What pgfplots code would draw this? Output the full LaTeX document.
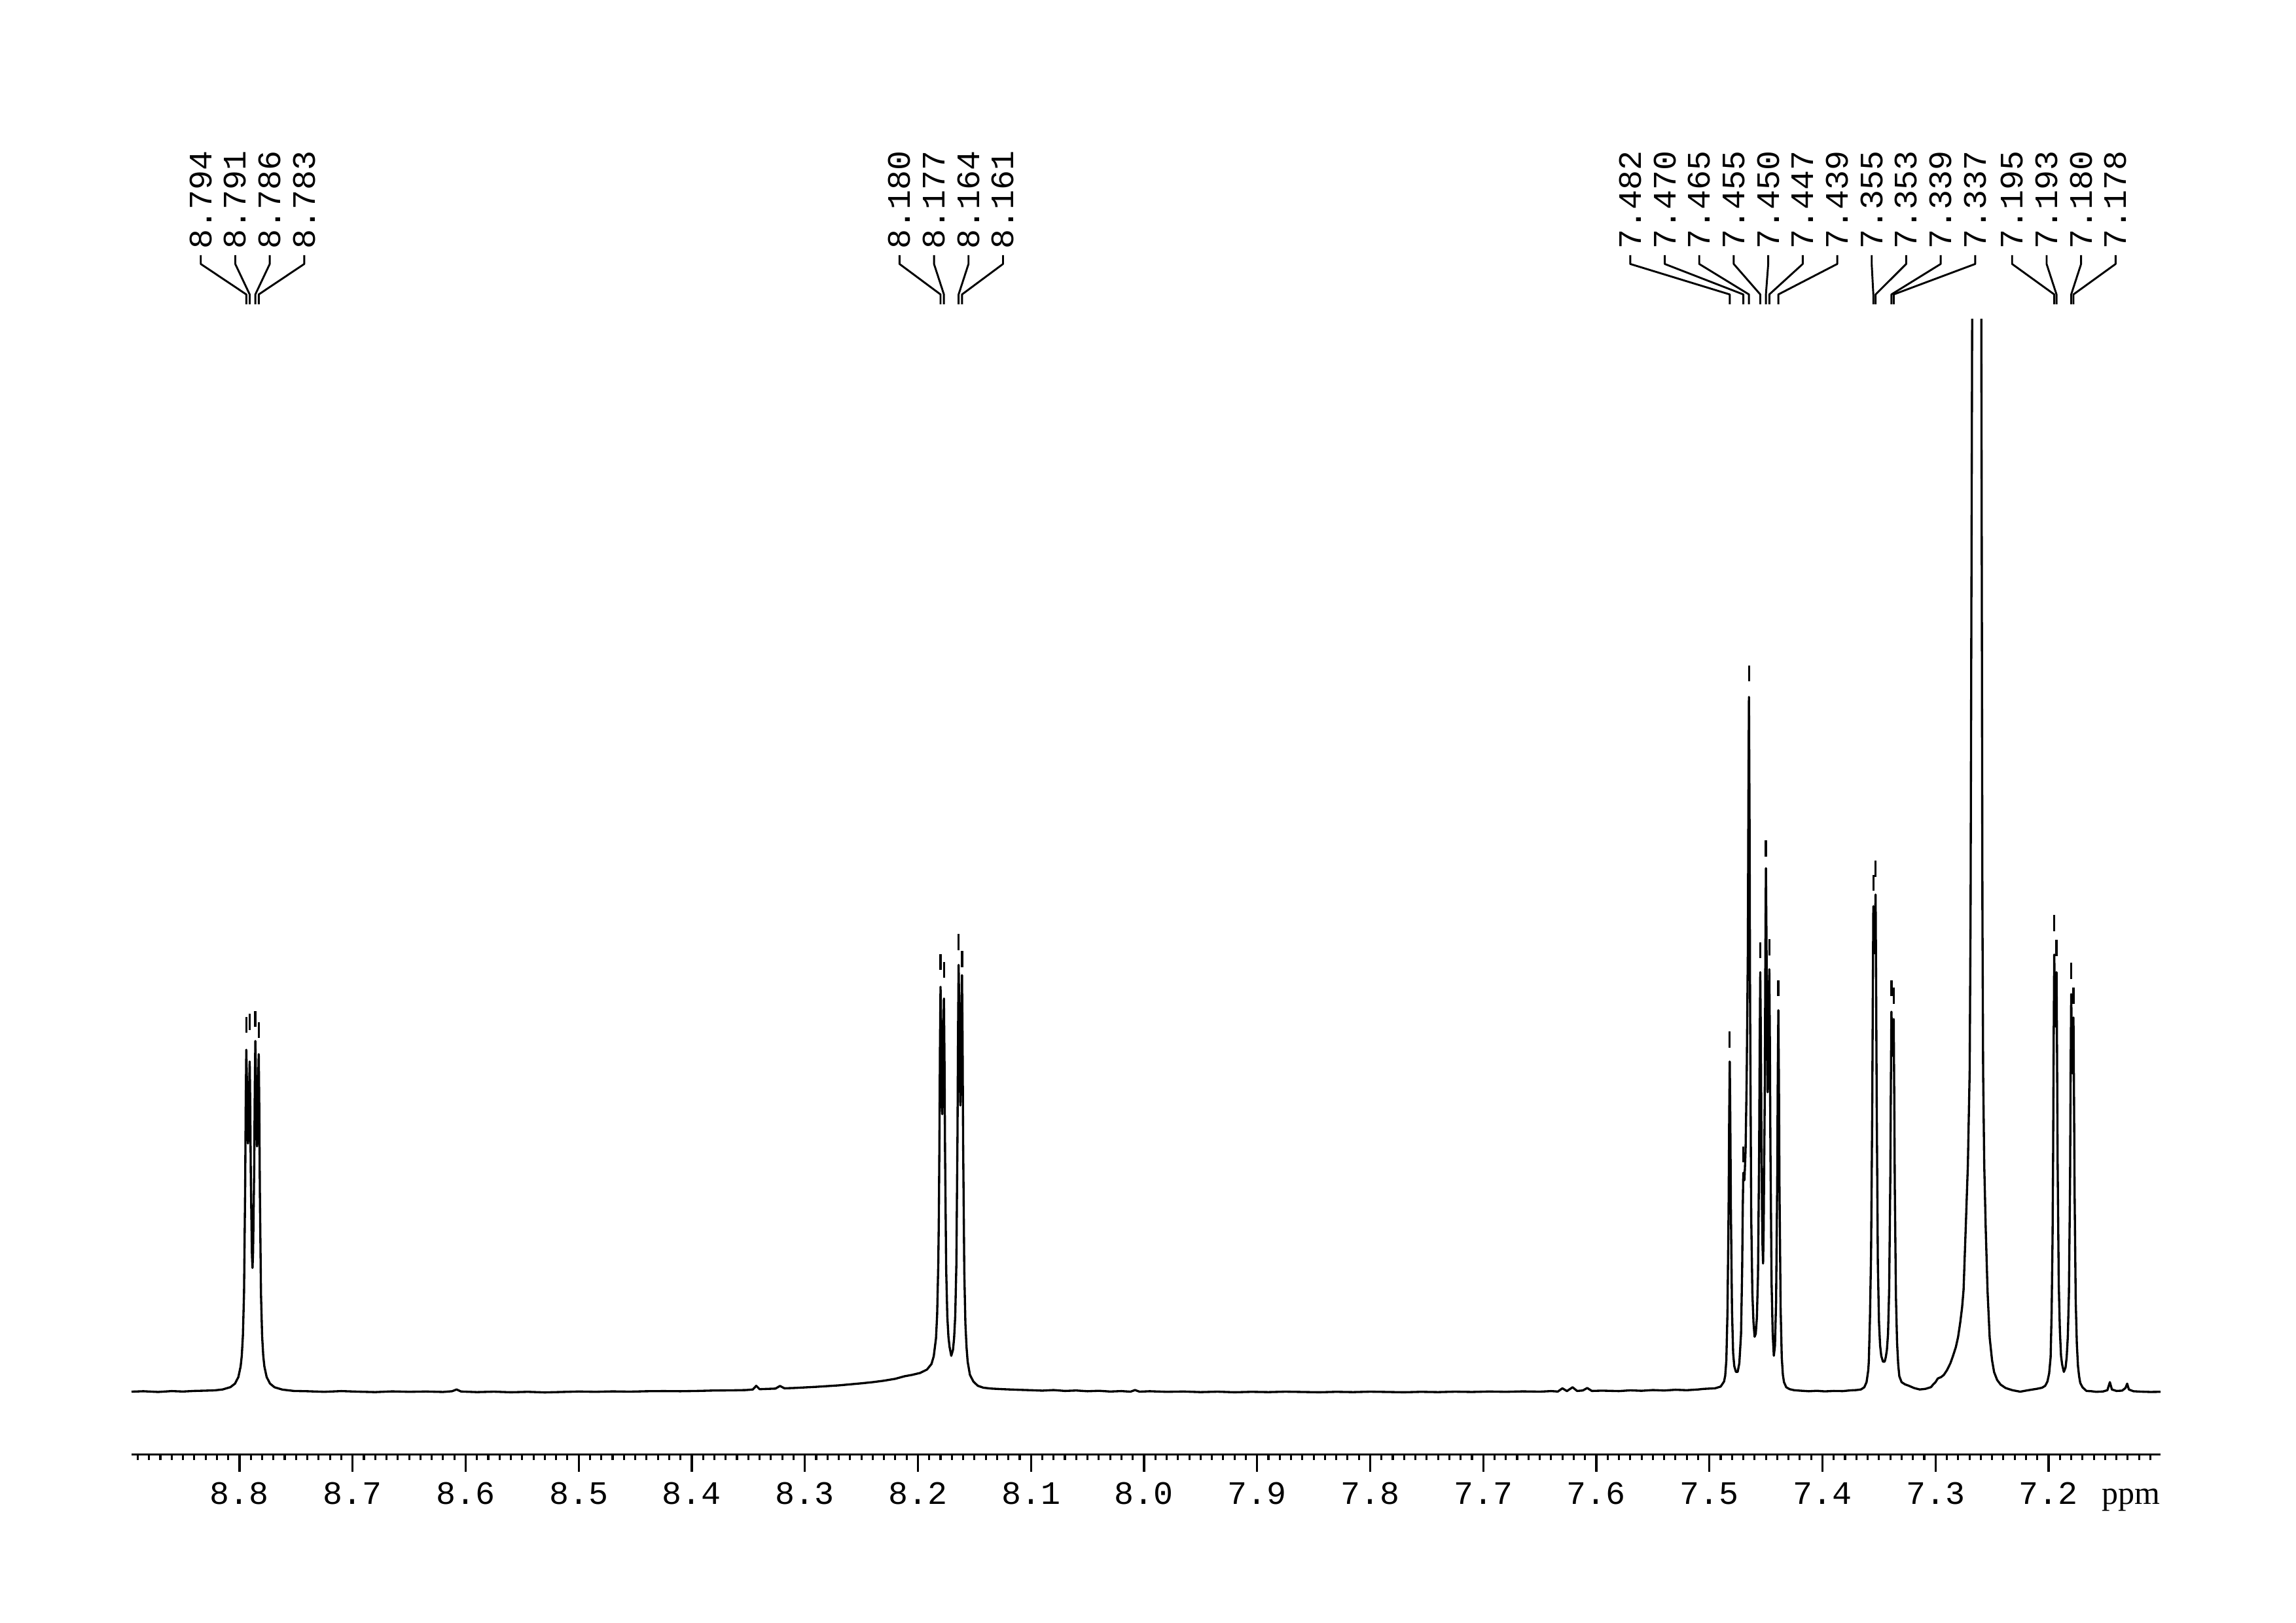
\documentclass[border=0pt]{standalone}
\usepackage{pgfplots}
\pgfplotsset{compat=1.18}
\usepackage{fontspec}
\setmainfont{Liberation Serif}
\newfontfamily\monof{Liberation Mono}
\newcommand{\lbl}{\monof\fontsize{12}{14}\selectfont}
\newcommand{\pk}[3]{%
  \draw[line width=0.7pt,line join=round] (axis cs:#1,743.2) -- (axis cs:#1,749.9) -- (axis cs:#2,770.7) -- (axis cs:#2,776.7);
  \node[rotate=90,anchor=west,inner sep=0pt,font=\lbl] at (axis cs:#2,780.5) {#3};}
\begin{document}
\begin{tikzpicture}
\useasboundingbox (0,0) rectangle (841.92pt,594.96pt);
\begin{axis}[
  at={(48.24pt,61.51pt)}, anchor=south west,
  scale only axis, width=744pt, height=416.4pt,
  xmin=7.101, xmax=8.8955, ymin=-42.5, ymax=733,
  x dir=reverse,
  axis x line*=bottom, hide y axis,
  axis line style={line width=0.85pt},
  xtick={7.2,7.3,7.4,7.5,7.6,7.7,7.8,7.9,8.0,8.1,8.2,8.3,8.4,8.5,8.6,8.7,8.8},
  minor xtick={7.11,7.12,...,8.895},
  tick align=outside, major tick length=6.2pt, minor tick length=2pt,
  every tick/.style={black, line width=0.75pt},
  xticklabel={\pgfmathprintnumber[fixed,fixed zerofill,precision=1,assume math mode=true]{\tick}},
  xticklabel style={font=\lbl, anchor=base, yshift=-12pt},
  clip mode=individual,
]
\addplot[black, line width=0.8pt, line join=round, mark=none] coordinates {
(8.8955,0.5) (8.885,0.8) (8.872,0.3) (8.860,0.9) (8.850,0.6) (8.840,1.0) (8.830,1.2) (8.822,1.4) (8.815,2.0) (8.808,3.6)
(8.804,6.0) (8.801,10.5) (8.799,17.8) (8.798,25) (8.797,38.7) (8.796,68) (8.795,140) (8.7945,197) (8.794,234) (8.7935,214)
(8.793,176) (8.7925,170) (8.792,176) (8.7915,206) (8.791,226) (8.7905,195) (8.790,147) (8.789,94) (8.7885,85) (8.788,96)
(8.787,154) (8.7865,207) (8.786,240) (8.7855,218) (8.785,180) (8.7845,168) (8.784,177) (8.7835,212) (8.783,231) (8.7825,194)
(8.782,138) (8.781,67) (8.780,38.4) (8.779,25) (8.778,17.7) (8.776,10.5) (8.773,6.0) (8.769,3.5) (8.762,1.9) (8.752,1.0)
(8.740,0.8) (8.725,0.4) (8.710,0.9) (8.695,0.5) (8.680,0.2) (8.665,0.7) (8.650,0.4) (8.635,0.6) (8.620,0.3) (8.612,0.8)
(8.608,2.0) (8.604,0.6) (8.590,0.2) (8.575,0.5) (8.560,0.1) (8.545,0.4) (8.530,0.0) (8.515,0.3) (8.500,0.6) (8.485,0.4)
(8.470,0.7) (8.455,0.5) (8.440,0.8) (8.425,0.9) (8.410,0.8) (8.395,1.0) (8.380,1.3) (8.365,1.4) (8.352,1.6) (8.346,2.0)
(8.343,4.5) (8.340,2.2) (8.333,2.4) (8.326,2.6) (8.322,4.4) (8.318,2.8) (8.310,3.0) (8.300,3.4) (8.290,3.8) (8.280,4.3)
(8.270,4.8) (8.260,5.5) (8.250,6.2) (8.240,7.0) (8.230,8.0) (8.220,9.3) (8.212,11) (8.205,12) (8.198,13.3) (8.192,15.6)
(8.188,19.4) (8.186,24.7) (8.184,37) (8.183,53) (8.182,87) (8.1815,119) (8.181,169) (8.1805,235) (8.180,277) (8.1795,253)
(8.179,209) (8.1785,190) (8.178,206) (8.1775,247) (8.177,269) (8.1765,228) (8.176,164) (8.175,84) (8.174,52) (8.173,38)
(8.172,31) (8.1705,25) (8.169,29) (8.168,37) (8.167,52) (8.166,87) (8.165,175) (8.1645,247) (8.164,292) (8.1635,266)
(8.163,219) (8.1625,196) (8.162,216) (8.1615,261) (8.161,285) (8.1605,241) (8.160,170) (8.159,83) (8.158,47) (8.157,31)
(8.156,21) (8.154,12) (8.151,7.5) (8.147,4.5) (8.142,3.2) (8.135,2.6) (8.125,2.2) (8.112,1.8) (8.100,1.5) (8.090,1.2)
(8.080,1.6) (8.070,1.0) (8.060,1.3) (8.050,0.8) (8.040,1.1) (8.030,0.6) (8.020,0.9) (8.012,0.5) (8.008,1.6) (8.004,0.5)
(7.995,0.8) (7.980,0.4) (7.965,0.6) (7.950,0.2) (7.935,0.5) (7.920,0.1) (7.905,0.4) (7.890,0.2) (7.875,0.5) (7.860,0.3)
(7.845,0.1) (7.830,0.4) (7.815,0.2) (7.800,0.5) (7.785,0.3) (7.770,0.1) (7.755,0.4) (7.740,0.2) (7.725,0.5) (7.710,0.3)
(7.695,0.6) (7.680,0.4) (7.665,0.7) (7.650,0.5) (7.640,0.9) (7.634,0.6) (7.630,2.8) (7.626,0.9) (7.621,3.5) (7.617,1.0)
(7.612,1.3) (7.608,3.0) (7.604,1.0) (7.595,1.2) (7.580,0.9) (7.570,1.4) (7.560,1.1) (7.550,1.6) (7.540,1.3) (7.530,1.8)
(7.520,1.5) (7.510,2.0) (7.505,2.4) (7.500,2.6) (7.495,2.8) (7.490,4.0) (7.487,7.5) (7.486,11.5) (7.485,22) (7.484,55)
(7.483,125) (7.4825,187) (7.482,226) (7.4815,187) (7.481,126) (7.480,56) (7.479,27) (7.478,18) (7.4765,14) (7.475,14)
(7.4735,20) (7.472,40) (7.471,85) (7.4705,125) (7.470,150) (7.469,145) (7.468,165) (7.467,215) (7.466,300) (7.4655,405)
(7.465,475) (7.4645,395) (7.464,265) (7.463,120) (7.462,68) (7.461,48) (7.460,38) (7.459,40) (7.458,51) (7.457,80)
(7.456,164) (7.4555,238) (7.455,287) (7.4545,244) (7.454,176) (7.4535,128) (7.453,100) (7.4525,88) (7.452,112) (7.451,205)
(7.4505,298) (7.450,358) (7.4495,311) (7.449,240) (7.4485,205) (7.448,216) (7.4475,262) (7.447,289) (7.4465,239) (7.446,165)
(7.445,75) (7.444,40) (7.443,25) (7.442,32) (7.441,62) (7.440,145) (7.4395,217) (7.439,261) (7.4385,213) (7.438,140)
(7.437,58) (7.436,24) (7.435,12) (7.434,7) (7.432,3.5) (7.429,2.2) (7.425,1.5) (7.420,1.2) (7.412,0.8) (7.405,1.1)
(7.398,0.7) (7.390,1.0) (7.382,0.9) (7.375,1.4) (7.370,1.6) (7.366,2.0) (7.363,3.5) (7.361,7) (7.3595,15) (7.359,21)
(7.358,50) (7.357,95) (7.356,190) (7.3555,265) (7.355,332) (7.354,300) (7.353,340) (7.3525,274) (7.352,195) (7.351,88)
(7.350,48) (7.349,32) (7.348,25) (7.3465,21) (7.345,21) (7.344,24) (7.343,29) (7.342,40) (7.341,70) (7.340,145)
(7.3395,209) (7.339,260) (7.338,230) (7.337,255) (7.3365,203) (7.336,140) (7.335,65) (7.334,34) (7.333,19) (7.332,11)
(7.330,7) (7.327,5.5) (7.3235,4.5) (7.319,3.0) (7.314,2.0) (7.309,2.4) (7.304,3.6) (7.302,5.5) (7.300,7.0) (7.298,9.5)
(7.295,10.5) (7.2926,12) (7.290,15) (7.2868,20) (7.2845,25) (7.282,31) (7.280,38) (7.2781,48) (7.2765,58) (7.2752,70)
(7.2733,112) (7.2714,155) (7.2698,219) (7.2690,326) (7.2676,733) (7.2660,1500) (7.2638,3000) (7.2616,1500) (7.2595,733) (7.2585,326)
(7.2579,219) (7.2569,155) (7.2556,112) (7.2540,69.5) (7.2521,37.4) (7.2500,22) (7.2482,13.9) (7.2455,8.5) (7.2424,5.3) (7.238,3.0)
(7.232,1.5) (7.2251,0.5) (7.218,1.5) (7.210,2.5) (7.2058,3.2) (7.203,4.5) (7.201,7.5) (7.1995,13) (7.1982,24) (7.1973,55)
(7.1965,105) (7.196,162) (7.1955,240) (7.195,299) (7.194,250) (7.193,287) (7.1925,230) (7.192,157) (7.191,74) (7.190,42)
(7.189,25) (7.188,19) (7.1865,14) (7.185,17) (7.184,24) (7.183,38) (7.182,68) (7.181,145) (7.1805,220) (7.180,272)
(7.179,218) (7.178,256) (7.1775,200) (7.177,137) (7.176,62) (7.175,33) (7.174,18) (7.173,11) (7.172,6.5) (7.170,3.5)
(7.1665,1.0) (7.162,0.8) (7.158,0.4) (7.152,0.6) (7.148,1.5) (7.1458,7) (7.144,2.0) (7.140,1.0) (7.135,1.2) (7.132,3.0)
(7.1305,6.0) (7.129,2.0) (7.125,0.8) (7.118,0.5) (7.110,0.3) (7.101,0.4)
};
\addplot[black, only marks, mark=|, mark size=2.95pt, mark options={line width=0.8pt}] coordinates {
(8.794,251) (8.791,253) (8.786,255) (8.783,247.5)
(8.180,294) (8.177,288.5) (8.164,307.5) (8.161,296)
(7.482,241) (7.470,162.5) (7.465,491) (7.455,302) (7.450,371.5) (7.447,304) (7.439,276)
(7.355,348) (7.353,357.7) (7.339,276) (7.337,271)
(7.195,320.5) (7.193,303.5) (7.180,288) (7.178,271)
};
\pk{8.794}{8.83426}{8.794}
\pk{8.791}{8.80375}{8.791}
\pk{8.786}{8.77325}{8.786}
\pk{8.783}{8.74274}{8.783}
\pk{8.180}{8.21626}{8.180}
\pk{8.177}{8.18575}{8.177}
\pk{8.164}{8.15525}{8.164}
\pk{8.161}{8.12474}{8.161}
\pk{7.482}{7.56998}{7.482}
\pk{7.470}{7.53947}{7.470}
\pk{7.465}{7.50897}{7.465}
\pk{7.455}{7.47846}{7.455}
\pk{7.450}{7.44796}{7.450}
\pk{7.447}{7.41745}{7.447}
\pk{7.439}{7.38694}{7.439}
\pk{7.355}{7.35644}{7.355}
\pk{7.353}{7.32593}{7.353}
\pk{7.339}{7.29543}{7.339}
\pk{7.337}{7.26492}{7.337}
\pk{7.195}{7.23226}{7.195}
\pk{7.193}{7.20175}{7.193}
\pk{7.180}{7.17125}{7.180}
\pk{7.178}{7.14074}{7.178}
\node[anchor=base east, inner sep=0pt, font=\fontsize{12}{14}\selectfont] at (axis cs:7.101,-76.3) {ppm};
\end{axis}
\end{tikzpicture}
\end{document}
